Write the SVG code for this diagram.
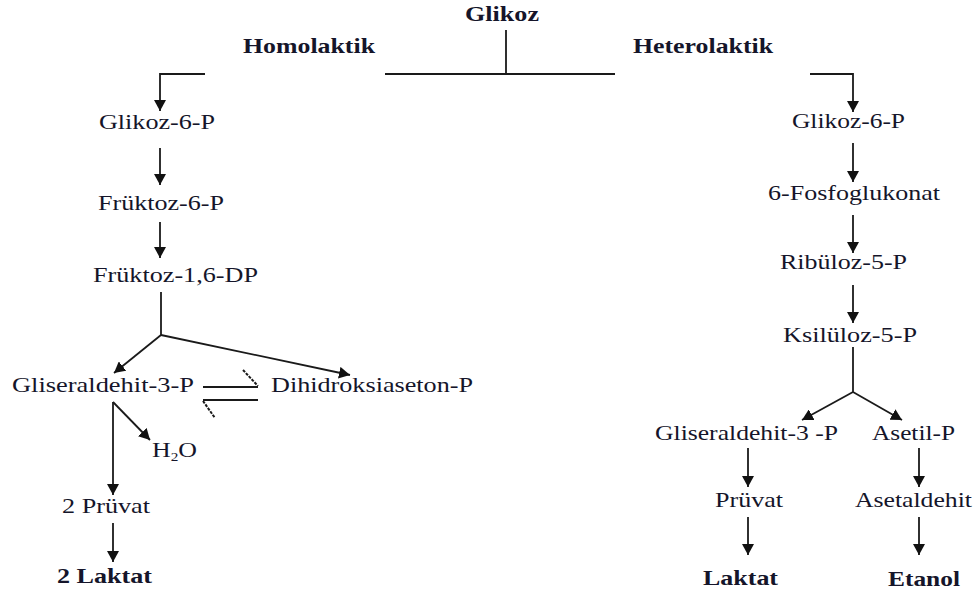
<svg xmlns="http://www.w3.org/2000/svg" width="977" height="596" viewBox="0 0 977 596">
<style>
text{font-family:"Liberation Serif","Times New Roman",serif;font-size:22px;fill:#15152a}
.b{font-weight:bold}
.c{fill:none;stroke:#1a1a1a;stroke-width:1.8}
.a{marker-end:url(#ah)}
.d{stroke-dasharray:3 1.2;stroke-width:2}
</style>
<defs>
<marker id="ah" markerUnits="userSpaceOnUse" markerWidth="12" markerHeight="12" refX="11" refY="6" orient="auto">
<path d="M0,0 L11,6 L0,12 z" fill="#111"/>
</marker>
</defs>
<rect width="977" height="596" fill="#fff"/>
<g id="connectors">
<path class="c" d="M506,30 V74 M385,74 H615"/>
<path class="c a" d="M205,74 H160 V111"/>
<path class="c a" d="M810,74 H853 V112"/>
<path class="c a" d="M160,148 V185"/>
<path class="c a" d="M160,222 V258"/>
<path class="c" d="M161,292 V335"/>
<path class="c a" d="M161,335 L114,373"/>
<path class="c a" d="M161,335 L350,375"/>
<path class="c" d="M203,387 H258 M203,400 H258"/>
<path class="c d" d="M243,370 L258,386 M203,401 L215,418"/>
<path class="c a" d="M113,402 V495"/>
<path class="c a" d="M113,402 L150,440"/>
<path class="c a" d="M113,523 V562"/>
<path class="c a" d="M853,143 V182"/>
<path class="c a" d="M853,215 V253"/>
<path class="c a" d="M853,285 V323"/>
<path class="c" d="M853,347 V392"/>
<path class="c a" d="M853,392 L802,420"/>
<path class="c a" d="M853,392 L902,420"/>
<path class="c a" d="M748,448 V487"/>
<path class="c a" d="M748,517 V555"/>
<path class="c a" d="M919,448 V487"/>
<path class="c a" d="M919,517 V555"/>
</g>
<g id="glikoz"><text class="b" x="465" y="21" textLength="74" lengthAdjust="spacingAndGlyphs">Glikoz</text></g>
<g id="homolaktik"><text class="b" x="243" y="53" textLength="132" lengthAdjust="spacingAndGlyphs">Homolaktik</text></g>
<g id="heterolaktik"><text class="b" x="633" y="53" textLength="140" lengthAdjust="spacingAndGlyphs">Heterolaktik</text></g>
<g id="l-glikoz6p"><text x="99" y="129" textLength="116" lengthAdjust="spacingAndGlyphs">Glikoz-6-P</text></g>
<g id="l-fruktoz6p"><text x="98" y="210" textLength="126" lengthAdjust="spacingAndGlyphs">Früktoz-6-P</text></g>
<g id="l-fruktoz16dp"><text x="93" y="282" textLength="165" lengthAdjust="spacingAndGlyphs">Früktoz-1,6-DP</text></g>
<g id="l-gliseraldehit"><text x="12" y="392" textLength="182" lengthAdjust="spacingAndGlyphs">Gliseraldehit-3-P</text></g>
<g id="l-dihidroksiaseton"><text x="271" y="392" textLength="202" lengthAdjust="spacingAndGlyphs">Dihidroksiaseton-P</text></g>
<g id="l-h2o"><text x="152" y="457" textLength="45" lengthAdjust="spacingAndGlyphs">H<tspan font-size="13" dy="4">2</tspan><tspan dy="-4">O</tspan></text></g>
<g id="l-pruvat"><text x="62" y="513" textLength="88" lengthAdjust="spacingAndGlyphs">2 Prüvat</text></g>
<g id="l-laktat"><text class="b" x="57" y="583" textLength="95" lengthAdjust="spacingAndGlyphs">2 Laktat</text></g>
<g id="r-glikoz6p"><text x="792" y="128" textLength="113" lengthAdjust="spacingAndGlyphs">Glikoz-6-P</text></g>
<g id="r-fosfoglukonat"><text x="768" y="200" textLength="172" lengthAdjust="spacingAndGlyphs">6-Fosfoglukonat</text></g>
<g id="r-ribuloz"><text x="780" y="269" textLength="127" lengthAdjust="spacingAndGlyphs">Ribüloz-5-P</text></g>
<g id="r-ksiluloz"><text x="783" y="342" textLength="134" lengthAdjust="spacingAndGlyphs">Ksilüloz-5-P</text></g>
<g id="r-gliseraldehit"><text x="655" y="440" textLength="183" lengthAdjust="spacingAndGlyphs">Gliseraldehit-3 -P</text></g>
<g id="r-asetilp"><text x="872" y="440" textLength="83" lengthAdjust="spacingAndGlyphs">Asetil-P</text></g>
<g id="r-pruvat"><text x="715" y="507" textLength="68" lengthAdjust="spacingAndGlyphs">Prüvat</text></g>
<g id="r-asetaldehit"><text x="855" y="507" textLength="117" lengthAdjust="spacingAndGlyphs">Asetaldehit</text></g>
<g id="r-laktat"><text class="b" x="703" y="585" textLength="75" lengthAdjust="spacingAndGlyphs">Laktat</text></g>
<g id="r-etanol"><text class="b" x="888" y="586" textLength="72" lengthAdjust="spacingAndGlyphs">Etanol</text></g>
</svg>
